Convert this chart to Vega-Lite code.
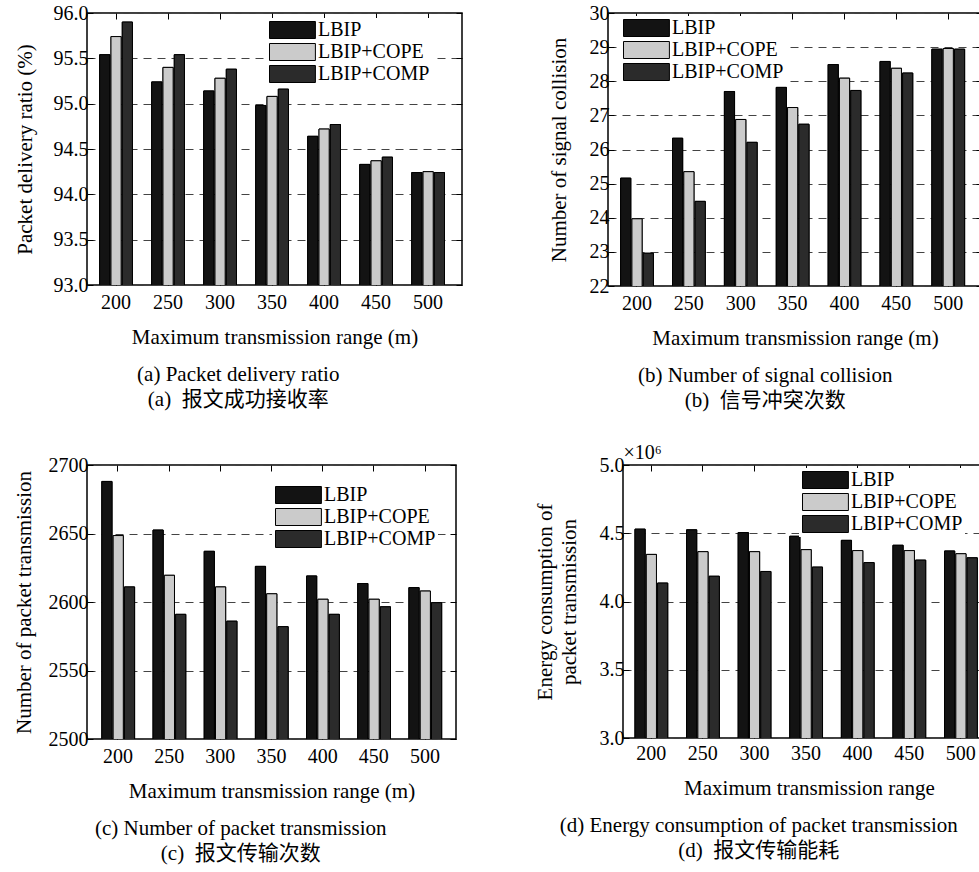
{
  "$schema": "https://vega.github.io/schema/vega-lite/v6.json",
  "background": "white",
  "padding": {"left": 12, "top": 2, "right": 0, "bottom": 0},
  "datasets": {
    "a": [
      {"range": "200", "scheme": "LBIP", "value": 95.54}, {"range": "200", "scheme": "LBIP+COPE", "value": 95.74}, {"range": "200", "scheme": "LBIP+COMP", "value": 95.90},
      {"range": "250", "scheme": "LBIP", "value": 95.24}, {"range": "250", "scheme": "LBIP+COPE", "value": 95.40}, {"range": "250", "scheme": "LBIP+COMP", "value": 95.54},
      {"range": "300", "scheme": "LBIP", "value": 95.14}, {"range": "300", "scheme": "LBIP+COPE", "value": 95.28}, {"range": "300", "scheme": "LBIP+COMP", "value": 95.38},
      {"range": "350", "scheme": "LBIP", "value": 94.98}, {"range": "350", "scheme": "LBIP+COPE", "value": 95.08}, {"range": "350", "scheme": "LBIP+COMP", "value": 95.16},
      {"range": "400", "scheme": "LBIP", "value": 94.64}, {"range": "400", "scheme": "LBIP+COPE", "value": 94.72}, {"range": "400", "scheme": "LBIP+COMP", "value": 94.77},
      {"range": "450", "scheme": "LBIP", "value": 94.33}, {"range": "450", "scheme": "LBIP+COPE", "value": 94.37}, {"range": "450", "scheme": "LBIP+COMP", "value": 94.41},
      {"range": "500", "scheme": "LBIP", "value": 94.24}, {"range": "500", "scheme": "LBIP+COPE", "value": 94.25}, {"range": "500", "scheme": "LBIP+COMP", "value": 94.24}
    ],
    "b": [
      {"range": "200", "scheme": "LBIP", "value": 25.16}, {"range": "200", "scheme": "LBIP+COPE", "value": 23.97}, {"range": "200", "scheme": "LBIP+COMP", "value": 22.96},
      {"range": "250", "scheme": "LBIP", "value": 26.33}, {"range": "250", "scheme": "LBIP+COPE", "value": 25.35}, {"range": "250", "scheme": "LBIP+COMP", "value": 24.48},
      {"range": "300", "scheme": "LBIP", "value": 27.70}, {"range": "300", "scheme": "LBIP+COPE", "value": 26.88}, {"range": "300", "scheme": "LBIP+COMP", "value": 26.21},
      {"range": "350", "scheme": "LBIP", "value": 27.82}, {"range": "350", "scheme": "LBIP+COPE", "value": 27.23}, {"range": "350", "scheme": "LBIP+COMP", "value": 26.74},
      {"range": "400", "scheme": "LBIP", "value": 28.49}, {"range": "400", "scheme": "LBIP+COPE", "value": 28.09}, {"range": "400", "scheme": "LBIP+COMP", "value": 27.73},
      {"range": "450", "scheme": "LBIP", "value": 28.58}, {"range": "450", "scheme": "LBIP+COPE", "value": 28.38}, {"range": "450", "scheme": "LBIP+COMP", "value": 28.24},
      {"range": "500", "scheme": "LBIP", "value": 28.94}, {"range": "500", "scheme": "LBIP+COPE", "value": 28.96}, {"range": "500", "scheme": "LBIP+COMP", "value": 28.94}
    ],
    "c": [
      {"range": "200", "scheme": "LBIP", "value": 2688}, {"range": "200", "scheme": "LBIP+COPE", "value": 2648.5}, {"range": "200", "scheme": "LBIP+COMP", "value": 2611},
      {"range": "250", "scheme": "LBIP", "value": 2652.5}, {"range": "250", "scheme": "LBIP+COPE", "value": 2619.5}, {"range": "250", "scheme": "LBIP+COMP", "value": 2591},
      {"range": "300", "scheme": "LBIP", "value": 2637}, {"range": "300", "scheme": "LBIP+COPE", "value": 2611}, {"range": "300", "scheme": "LBIP+COMP", "value": 2586},
      {"range": "350", "scheme": "LBIP", "value": 2626}, {"range": "350", "scheme": "LBIP+COPE", "value": 2606}, {"range": "350", "scheme": "LBIP+COMP", "value": 2582},
      {"range": "400", "scheme": "LBIP", "value": 2619}, {"range": "400", "scheme": "LBIP+COPE", "value": 2602}, {"range": "400", "scheme": "LBIP+COMP", "value": 2591},
      {"range": "450", "scheme": "LBIP", "value": 2613.5}, {"range": "450", "scheme": "LBIP+COPE", "value": 2602}, {"range": "450", "scheme": "LBIP+COMP", "value": 2596.5},
      {"range": "500", "scheme": "LBIP", "value": 2610.5}, {"range": "500", "scheme": "LBIP+COPE", "value": 2608}, {"range": "500", "scheme": "LBIP+COMP", "value": 2599.5}
    ],
    "d": [
      {"range": "200", "scheme": "LBIP", "value": 4.53}, {"range": "200", "scheme": "LBIP+COPE", "value": 4.345}, {"range": "200", "scheme": "LBIP+COMP", "value": 4.135},
      {"range": "250", "scheme": "LBIP", "value": 4.525}, {"range": "250", "scheme": "LBIP+COPE", "value": 4.365}, {"range": "250", "scheme": "LBIP+COMP", "value": 4.185},
      {"range": "300", "scheme": "LBIP", "value": 4.505}, {"range": "300", "scheme": "LBIP+COPE", "value": 4.365}, {"range": "300", "scheme": "LBIP+COMP", "value": 4.22},
      {"range": "350", "scheme": "LBIP", "value": 4.478}, {"range": "350", "scheme": "LBIP+COPE", "value": 4.38}, {"range": "350", "scheme": "LBIP+COMP", "value": 4.252},
      {"range": "400", "scheme": "LBIP", "value": 4.448}, {"range": "400", "scheme": "LBIP+COPE", "value": 4.373}, {"range": "400", "scheme": "LBIP+COMP", "value": 4.285},
      {"range": "450", "scheme": "LBIP", "value": 4.412}, {"range": "450", "scheme": "LBIP+COPE", "value": 4.373}, {"range": "450", "scheme": "LBIP+COMP", "value": 4.303},
      {"range": "500", "scheme": "LBIP", "value": 4.37}, {"range": "500", "scheme": "LBIP+COPE", "value": 4.35}, {"range": "500", "scheme": "LBIP+COMP", "value": 4.32}
    ]
  },
  "config": {
    "font": "Liberation Serif, serif",
    "view": {"stroke": "black", "strokeWidth": 1.5},
    "style": {
      "guide-label": {"font": "Liberation Serif, serif", "fill": "black"},
      "guide-title": {"font": "Liberation Serif, serif", "fill": "black"}
    },
    "axis": {
      "labelFont": "Liberation Serif, serif", "labelFontSize": 20, "labelColor": "black",
      "titleFont": "Liberation Serif, serif", "titleFontSize": 21, "titleFontWeight": "normal", "titleColor": "black",
      "domain": false, "tickColor": "black", "tickSize": -6, "tickWidth": 1,
      "gridColor": "#444", "gridDash": [8, 6], "gridWidth": 1
    },
    "legend": {
      "labelFont": "Liberation Serif, serif", "labelFontSize": 20, "labelColor": "black",
      "symbolType": "M-1,-1H4.4V1H-1Z", "symbolSize": 289, "symbolStrokeColor": "black", "symbolStrokeWidth": 1, "symbolOpacity": 1,
      "labelOffset": 30, "rowPadding": 0, "fillColor": "white", "padding": 2
    },
    "title": {"font": "Liberation Serif, Noto Sans CJK SC, serif", "fontSize": 21, "fontWeight": "normal", "color": "black", "lineHeight": 25, "orient": "bottom", "anchor": "middle", "frame": "bounds", "offset": 17}
  },
  "spacing": 29,
  "resolve": {"scale": {"color": "independent"}, "legend": {"color": "independent"}},
  "vconcat": [
    {
      "spacing": 83,
      "resolve": {"scale": {"color": "independent"}, "legend": {"color": "independent"}},
      "hconcat": [
        {
          "width": 375, "height": 272,
          "data": {"name": "a"},
          "title": {"text": ["(a) Packet delivery ratio", "(a)\u00a0\u00a0报文成功接收率"]},
          "layer": [
            {
              "mark": {"type": "bar", "stroke": "black", "strokeWidth": 1, "clip": true},
              "encoding": {
                "x": {"field": "range", "type": "ordinal", "scale": {"paddingInner": 0.37, "paddingOuter": 0.29, "align": 0.42}, "axis": {"orient": "bottom", "title": "Maximum transmission range (m)", "labelAngle": 0, "grid": false, "labelPadding": 13, "titlePadding": 14}},
                "xOffset": {"field": "scheme", "type": "nominal", "sort": ["LBIP", "LBIP+COPE", "LBIP+COMP"], "scale": {"paddingInner": 0.1}},
                "y": {"field": "value", "type": "quantitative", "scale": {"domain": [93, 96], "zero": false, "nice": false}, "axis": {"orient": "left", "title": "Packet delivery ratio (%)", "values": [93, 93.5, 94, 94.5, 95, 95.5, 96], "format": ".1f", "grid": true, "labelPadding": 5, "titlePadding": 18}},
                "color": {"field": "scheme", "type": "nominal", "sort": ["LBIP", "LBIP+COPE", "LBIP+COMP"], "scale": {"domain": ["LBIP", "LBIP+COPE", "LBIP+COMP"], "range": ["#131313", "#cbcbcb", "#2b2b2b"]}, "legend": {"title": null, "orient": "none", "legendX": 179, "legendY": 5}}
              }
            },
            {
              "mark": {"type": "bar", "stroke": "black", "strokeWidth": 1, "clip": true},
              "encoding": {
                "x": {"field": "range", "type": "ordinal", "axis": {"orient": "top", "labels": false, "title": null, "grid": false, "minExtent": 0}},
                "xOffset": {"field": "scheme", "type": "nominal", "sort": ["LBIP", "LBIP+COPE", "LBIP+COMP"]},
                "y": {"field": "value", "type": "quantitative", "axis": {"orient": "right", "labels": false, "title": null, "grid": false, "minExtent": 0, "values": [93, 93.5, 94, 94.5, 95, 95.5, 96]}},
                "color": {"field": "scheme", "type": "nominal", "sort": ["LBIP", "LBIP+COPE", "LBIP+COMP"], "legend": null}
              }
            }
          ],
          "resolve": {"axis": {"x": "independent", "y": "independent"}}
        },
        {
          "width": 374, "height": 273,
          "data": {"name": "b"},
          "title": {"text": ["(b) Number of signal collision", "(b)\u00a0\u00a0信号冲突次数"]},
          "layer": [
            {
              "mark": {"type": "bar", "stroke": "black", "strokeWidth": 1, "clip": true},
              "encoding": {
                "x": {"field": "range", "type": "ordinal", "scale": {"paddingInner": 0.37, "paddingOuter": 0.29, "align": 0.42}, "axis": {"orient": "bottom", "title": "Maximum transmission range (m)", "labelAngle": 0, "grid": false, "labelPadding": 13, "titlePadding": 14}},
                "xOffset": {"field": "scheme", "type": "nominal", "sort": ["LBIP", "LBIP+COPE", "LBIP+COMP"], "scale": {"paddingInner": 0.1}},
                "y": {"field": "value", "type": "quantitative", "scale": {"domain": [22, 30], "zero": false, "nice": false}, "axis": {"orient": "left", "title": "Number of signal collision", "values": [22, 23, 24, 25, 26, 27, 28, 29, 30], "grid": true, "labelPadding": 5, "titlePadding": 20}},
                "color": {"field": "scheme", "type": "nominal", "sort": ["LBIP", "LBIP+COPE", "LBIP+COMP"], "scale": {"domain": ["LBIP", "LBIP+COPE", "LBIP+COMP"], "range": ["#131313", "#cbcbcb", "#2b2b2b"]}, "legend": {"title": null, "orient": "none", "legendX": 12, "legendY": 3}}
              }
            },
            {
              "mark": {"type": "bar", "stroke": "black", "strokeWidth": 1, "clip": true},
              "encoding": {
                "x": {"field": "range", "type": "ordinal", "axis": {"orient": "top", "labels": false, "title": null, "grid": false, "minExtent": 0}},
                "xOffset": {"field": "scheme", "type": "nominal", "sort": ["LBIP", "LBIP+COPE", "LBIP+COMP"]},
                "y": {"field": "value", "type": "quantitative", "axis": {"orient": "right", "labels": false, "title": null, "grid": false, "minExtent": 0, "values": [22, 23, 24, 25, 26, 27, 28, 29, 30]}},
                "color": {"field": "scheme", "type": "nominal", "sort": ["LBIP", "LBIP+COPE", "LBIP+COMP"], "legend": null}
              }
            }
          ],
          "resolve": {"axis": {"x": "independent", "y": "independent"}}
        }
      ]
    },
    {
      "spacing": 75,
      "resolve": {"scale": {"color": "independent"}, "legend": {"color": "independent"}},
      "hconcat": [
        {
          "width": 369, "height": 274,
          "data": {"name": "c"},
          "title": {"text": ["(c) Number of packet transmission", "(c)\u00a0\u00a0报文传输次数"], "dx": 6},
          "layer": [
            {
              "mark": {"type": "bar", "stroke": "black", "strokeWidth": 1, "clip": true},
              "encoding": {
                "x": {"field": "range", "type": "ordinal", "scale": {"paddingInner": 0.37, "paddingOuter": 0.29, "align": 0.5}, "axis": {"orient": "bottom", "title": "Maximum transmission range (m)", "labelAngle": 0, "grid": false, "labelPadding": 13, "titlePadding": 14}},
                "xOffset": {"field": "scheme", "type": "nominal", "sort": ["LBIP", "LBIP+COPE", "LBIP+COMP"], "scale": {"paddingInner": 0.1}},
                "y": {"field": "value", "type": "quantitative", "scale": {"domain": [2500, 2700], "zero": false, "nice": false}, "axis": {"orient": "left", "title": "Number of packet transmission", "values": [2500, 2550, 2600, 2650, 2700], "format": "d", "grid": true, "labelPadding": 5, "titlePadding": 14}},
                "color": {"field": "scheme", "type": "nominal", "sort": ["LBIP", "LBIP+COPE", "LBIP+COMP"], "scale": {"domain": ["LBIP", "LBIP+COPE", "LBIP+COMP"], "range": ["#131313", "#cbcbcb", "#2b2b2b"]}, "legend": {"title": null, "orient": "none", "legendX": 185, "legendY": 18}}
              }
            },
            {
              "mark": {"type": "bar", "stroke": "black", "strokeWidth": 1, "clip": true},
              "encoding": {
                "x": {"field": "range", "type": "ordinal", "axis": {"orient": "top", "labels": false, "title": null, "grid": false, "minExtent": 0}},
                "xOffset": {"field": "scheme", "type": "nominal", "sort": ["LBIP", "LBIP+COPE", "LBIP+COMP"]},
                "y": {"field": "value", "type": "quantitative", "axis": {"orient": "right", "labels": false, "title": null, "grid": false, "minExtent": 0, "values": [2500, 2550, 2600, 2650, 2700]}},
                "color": {"field": "scheme", "type": "nominal", "sort": ["LBIP", "LBIP+COPE", "LBIP+COMP"], "legend": null}
              }
            }
          ],
          "resolve": {"axis": {"x": "independent", "y": "independent"}}
        },
        {
          "width": 372, "height": 273,
          "data": {"name": "d"},
          "title": {"text": ["(d) Energy consumption of packet transmission", "(d)\u00a0\u00a0报文传输能耗"], "dx": -6},
          "layer": [
            {
              "mark": {"type": "bar", "stroke": "black", "strokeWidth": 1, "clip": true},
              "encoding": {
                "x": {"field": "range", "type": "ordinal", "scale": {"paddingInner": 0.37, "paddingOuter": 0.29, "align": 0.4}, "axis": {"orient": "bottom", "title": "Maximum transmission range", "labelAngle": 0, "grid": false, "labelPadding": 11, "titlePadding": 14}},
                "xOffset": {"field": "scheme", "type": "nominal", "sort": ["LBIP", "LBIP+COPE", "LBIP+COMP"], "scale": {"paddingInner": 0.1}},
                "y": {"field": "value", "type": "quantitative", "scale": {"domain": [3, 5], "zero": false, "nice": false}, "axis": {"orient": "left", "title": ["Energy consumption of", "packet transmission"], "values": [3, 3.5, 4, 4.5, 5], "format": ".1f", "grid": true, "labelPadding": 5, "titlePadding": 20, "titleLineHeight": 24}},
                "color": {"field": "scheme", "type": "nominal", "sort": ["LBIP", "LBIP+COPE", "LBIP+COMP"], "scale": {"domain": ["LBIP", "LBIP+COPE", "LBIP+COMP"], "range": ["#131313", "#cbcbcb", "#2b2b2b"]}, "legend": {"title": null, "orient": "none", "legendX": 176, "legendY": 3}}
              }
            },
            {
              "mark": {"type": "bar", "stroke": "black", "strokeWidth": 1, "clip": true},
              "encoding": {
                "x": {"field": "range", "type": "ordinal", "axis": {"orient": "top", "labels": false, "title": "×10⁶", "titleFontSize": 20, "titleAnchor": "start", "titleAlign": "left", "titlePadding": 2, "grid": false, "minExtent": 0}},
                "xOffset": {"field": "scheme", "type": "nominal", "sort": ["LBIP", "LBIP+COPE", "LBIP+COMP"]},
                "y": {"field": "value", "type": "quantitative", "axis": {"orient": "right", "labels": false, "title": null, "grid": false, "minExtent": 0, "values": [3, 3.5, 4, 4.5, 5]}},
                "color": {"field": "scheme", "type": "nominal", "sort": ["LBIP", "LBIP+COPE", "LBIP+COMP"], "legend": null}
              }
            }
          ],
          "resolve": {"axis": {"x": "independent", "y": "independent"}}
        }
      ]
    }
  ]
}
